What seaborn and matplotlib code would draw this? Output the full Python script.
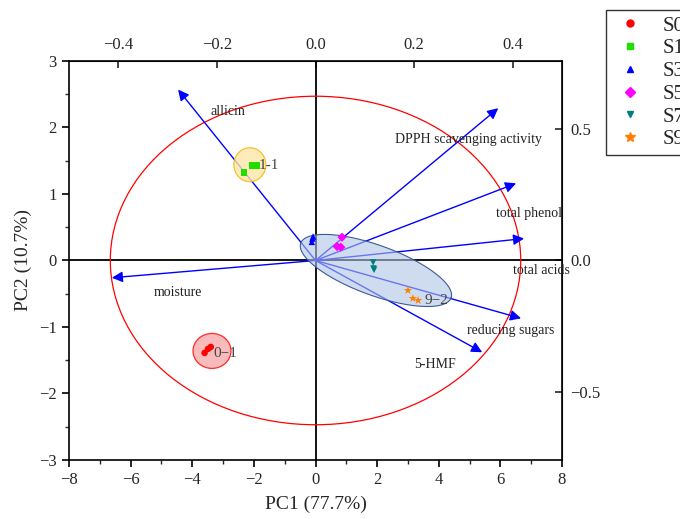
import numpy as np
import pandas as pd
import matplotlib
matplotlib.use("Agg")
import matplotlib.pyplot as plt
from matplotlib.patches import Ellipse
from matplotlib.lines import Line2D
import seaborn as sns

sns.set_style("white")
plt.rcParams['font.family'] = ['Liberation Serif', 'DejaVu Serif']

# ---- data ----
groups = ["S0", "S0", "S0", "S1", "S1", "S1", "S3", "S3", "S3",
          "S5", "S5", "S5", "S7", "S7", "S7", "S9", "S9", "S9"]
pc1 = [-3.49, -3.40, -3.60, -2.06, -1.90, -2.32, -0.10, -0.12, -0.08,
       0.86, 0.70, 0.82, 1.87, 1.90, 1.88, 3.00, 3.16, 3.33]
pc2 = [-1.33, -1.30, -1.39, 1.43, 1.43, 1.32, 0.33, 0.28, 0.36,
       0.35, 0.21, 0.20, -0.03, -0.14, -0.12, -0.45, -0.57, -0.60]

var_names = ["allicin", "DPPH scavenging activity", "total phenol", "total acids",
             "reducing sugars", "5-HMF", "moisture"]
var_x = [-4.46, 5.93, 6.51, 6.77, 6.67, 5.41, -6.61]
var_y = [2.57, 2.29, 1.16, 0.33, -0.87, -1.38, -0.26]
lab_x = [-2.84, 4.98, 6.93, 7.32, 6.35, 3.88, -4.46]
lab_y = [2.24, 1.82, 0.71, -0.15, -1.05, -1.56, -0.48]

legend_labels = ["S0", "S1", "S3", "S5", "S7", "S9"]
colors = ["#ff0000", "#22dd00", "#0000ff", "#ff00ff", "#007c7c", "#ff7f00"]
markers = ["o", "s", "^", "D", "v", "*"]

cluster_names = ["0\u22121", "1-1", "9\u22122"]
cluster_x = [-3.36, -2.13, 1.96]
cluster_y = [-1.36, 1.44, -0.15]
cluster_lab_x = [-3.36, -1.90, 3.49]
cluster_lab_y = [-1.40, 1.43, -0.60]

df = pd.DataFrame({"PC1": pc1, "PC2": pc2, "group": groups})

# ---- figure ----
fig = plt.figure(figsize=(6.8, 5.19), dpi=100)
ax = fig.add_axes([0.1015, 0.1137, 0.725, 0.7688])
ax.set_xlim(-8, 8)
ax.set_ylim(-3, 3)

# zero lines
ax.axhline(0, color="black", lw=1.3, zorder=1)
ax.axvline(0, color="black", lw=1.3, zorder=1)

# big red ellipse
ax.add_patch(Ellipse((0.0, 0.0), 13.32, 4.94, fill=False, edgecolor="red", lw=0.9, zorder=2))

# loading arrows
for name, x, y, lx, ly in zip(var_names, var_x, var_y, lab_x, lab_y):
    ax.annotate("", xy=(x, y), xytext=(0, 0),
                arrowprops=dict(arrowstyle="-|>", color="blue", lw=1.0,
                                mutation_scale=16, shrinkA=0, shrinkB=0),
                zorder=3)
    ax.text(lx, ly, name, fontsize=10, ha="center", va="center", color="#222222", zorder=6)

# cluster ellipses (sizes set in pixel space)
sx = 493 / 16.0   # px per x unit
sy = 399 / 6.0    # px per y unit
ax.add_patch(Ellipse((cluster_x[0], cluster_y[0]), 2 * 19 / sx, 2 * 17.5 / sy,
                     facecolor="#f7a9a9", edgecolor="red", lw=0.9, alpha=0.8, zorder=4))
ax.add_patch(Ellipse((cluster_x[1], cluster_y[1]), 2 * 16 / sx, 2 * 17 / sy,
                     facecolor="#fde7a8", edgecolor="#f5b400", lw=0.9, alpha=0.8, zorder=4))
t = np.linspace(0, 2 * np.pi, 200)
a_px, b_px, ang = 80, 25, np.deg2rad(-20)
X = a_px * np.cos(t) * np.cos(ang) - b_px * np.sin(t) * np.sin(ang)
Y = a_px * np.cos(t) * np.sin(ang) + b_px * np.sin(t) * np.cos(ang)
ax.fill(cluster_x[2] + X / sx, cluster_y[2] + Y / sy, facecolor="#b0c4e4",
        edgecolor="none", alpha=0.6, zorder=4)
ax.plot(cluster_x[2] + X / sx, cluster_y[2] + Y / sy, color="#3a5c96", lw=0.8, zorder=4)

# scatter points
sns.scatterplot(data=df, x="PC1", y="PC2", hue="group", style="group",
                palette=dict(zip(legend_labels, colors)),
                markers=dict(zip(legend_labels, markers)),
                size="group", sizes={"S0": 22, "S1": 22, "S3": 22, "S5": 22, "S7": 22, "S9": 40},
                linewidth=0, ax=ax, legend=False, zorder=5)

for name, x, y in zip(cluster_names, cluster_lab_x, cluster_lab_y):
    ax.text(x + 0.05, y, name, fontsize=11, ha="left", va="center", color="#444444", zorder=6)

# axes styling
ax.set_xticks(np.arange(-8, 9, 2))
ax.set_xticks(np.arange(-7, 8, 2), minor=True)
ax.set_yticks(np.arange(-3, 4, 1))
ax.set_yticks(np.arange(-2.5, 3, 1), minor=True)
ax.tick_params(axis="both", which="major", direction="out", length=5, width=1.2,
               labelsize=12, color="black", bottom=True, left=True, pad=4)
ax.tick_params(axis="both", which="minor", direction="out", length=3, width=1.0,
               bottom=True, left=True)
ax.set_xticklabels([f"{v}" if v >= 0 else f"\u2212{abs(v)}" for v in range(-8, 9, 2)])
ax.set_yticklabels([f"{v}" if v >= 0 else f"\u2212{abs(v)}" for v in range(-3, 4)])
for sp in ax.spines.values():
    sp.set_visible(True)
    sp.set_color("black")
    sp.set_linewidth(1.2)
ax.set_xlabel("PC1 (77.7%)", fontsize=14, labelpad=5)
ax.set_ylabel("PC2 (10.7%)", fontsize=14, labelpad=5)

# secondary axes (loadings scale)
secx = ax.secondary_xaxis("top", functions=(lambda v: v / 16.0, lambda v: v * 16.0))
secx.set_xticks([-0.4, -0.2, 0.0, 0.2, 0.4])
secx.set_xticklabels(["\u22120.4", "\u22120.2", "0.0", "0.2", "0.4"])
secx.tick_params(direction="in", length=5, width=1.2, labelsize=12, pad=6)
secy = ax.secondary_yaxis("right", functions=(lambda v: v / 3.96, lambda v: v * 3.96))
secy.set_yticks([-0.5, 0.0, 0.5])
secy.set_yticklabels(["\u22120.5", "0.0", "0.5"])
secy.tick_params(direction="in", length=5, width=1.2, labelsize=12, pad=6)

# legend (extends past the right edge, as in the reference)
handles = [Line2D([0], [0], marker=m, color="none", markerfacecolor=c, markeredgecolor=c,
                  markersize=5 if m != "*" else 7, linestyle="none")
           for m, c in zip(markers, colors)]
leg = fig.legend(handles, legend_labels, loc="upper left", bbox_to_anchor=(0.891, 0.981),
                 borderaxespad=0, fontsize=15, frameon=True, fancybox=False, edgecolor="black",
                 handletextpad=0.7, labelspacing=0.15, borderpad=0.3, handlelength=1.7)
leg.get_frame().set_linewidth(1.0)

fig.savefig("out.png", dpi=100)
